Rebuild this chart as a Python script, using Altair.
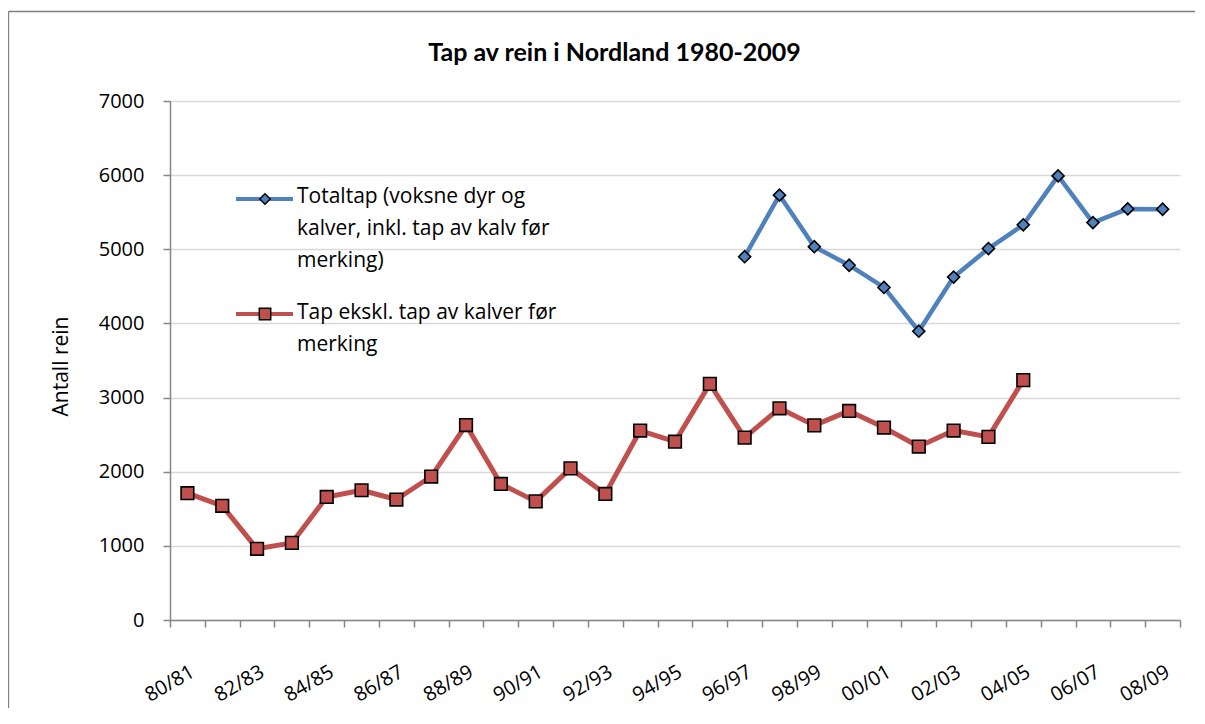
import altair as alt
import pandas as pd

cats = ["80/81", "81/82", "82/83", "83/84", "84/85", "85/86", "86/87", "87/88",
        "88/89", "89/90", "90/91", "91/92", "92/93", "93/94", "94/95", "95/96",
        "96/97", "97/98", "98/99", "99/00", "00/01", "01/02", "02/03", "03/04",
        "04/05", "05/06", "06/07", "07/08", "08/09"]

# Tap ekskl. tap av kalver før merking (80/81 .. 04/05)
red_vals = [1710, 1540, 960, 1040, 1660, 1750, 1625, 1935, 2630, 1835, 1600, 2045,
            1700, 2555, 2405, 3185, 2460, 2855, 2625, 2820, 2595, 2340, 2555, 2470, 3235]
# Totaltap (96/97 .. 08/09)
blue_vals = [4900, 5730, 5035, 4785, 4485, 3895, 4625, 5010, 5330, 5990, 5360, 5545, 5540]

blue_name = "Totaltap (voksne dyr og kalver, inkl. tap av kalv før merking)"
red_name = "Tap ekskl. tap av kalver før merking"
legend_blue_lines = ["Totaltap (voksne dyr og", "kalver, inkl. tap av kalv før", "merking)"]
legend_red_lines = ["Tap ekskl. tap av kalver før", "merking"]
title_text = "Tap av rein i Nordland 1980-2009"
y_title = "Antall rein"

RED = "#C0504D"
BLUE = "#4F81BD"
FONT = "Open Sans"
TFONT = "Lato"
FS = 20
LFS = 21

red_df = pd.DataFrame({"kategori": cats[:len(red_vals)], "verdi": red_vals, "serie": red_name})
blue_start = len(cats) - len(blue_vals)
blue_df = pd.DataFrame({"kategori": cats[blue_start:], "verdi": blue_vals, "serie": blue_name})
one = pd.DataFrame({"k": [0]})

x_enc = alt.X(
    "kategori:O",
    scale=alt.Scale(type="band", domain=cats, paddingInner=0, paddingOuter=0),
    axis=alt.Axis(
        title=None, tickBand="extent", labelAngle=330, labelAlign="right",
        labelBaseline="middle", labelPadding=43, labelOffset=5,
        labelExpr="toNumber(substring(datum.label,0,2)) % 2 == 0 ? datum.label : ''",
        labelFontSize=FS, labelFont=FONT, labelColor="black", labelOverlap=False,
        domainColor="#868686", domainWidth=1.5, tickColor="#868686", tickWidth=1.5,
        tickSize=7, grid=False,
    ),
)
y_enc = alt.Y(
    "verdi:Q",
    scale=alt.Scale(domain=[0, 7000], nice=False),
    axis=alt.Axis(
        values=list(range(0, 7001, 1000)), format="d", title=y_title, titleFont=FONT,
        titleFontSize=21, titleFontWeight="normal", titleColor="black", titlePadding=27,
        titleY=265,
        labelFontSize=FS, labelFont=FONT, labelColor="black", labelPadding=19,
        domainColor="#868686", domainWidth=1.5, tickColor="#868686", tickWidth=1.5,
        tickSize=7, gridColor="#D9D9D9", gridWidth=1.5,
    ),
)

red_line = alt.Chart(red_df).mark_line(color=RED, strokeWidth=5, strokeJoin="round").encode(x=x_enc, y=y_enc)
red_pts = alt.Chart(red_df).mark_point(shape="square", filled=True, size=160, fill=RED,
                                       stroke="black", strokeWidth=1.6, opacity=1).encode(x=x_enc, y=y_enc)
blue_line = alt.Chart(blue_df).mark_line(color=BLUE, strokeWidth=4.5, strokeJoin="round").encode(x=x_enc, y=y_enc)
blue_pts = alt.Chart(blue_df).mark_point(shape="diamond", filled=True, size=145, fill=BLUE,
                                         stroke="black", strokeWidth=1.6, opacity=1).encode(x=x_enc, y=y_enc)

# manual legend
leg_layers = []
leg_layers.append(alt.Chart(one).mark_rule(color=BLUE, strokeWidth=4).encode(
    x=alt.value(66), x2=alt.value(123), y=alt.value(98)))
leg_layers.append(alt.Chart(one).mark_point(shape="diamond", filled=True, size=110, fill=BLUE,
                                            stroke="black", strokeWidth=1.5, opacity=1).encode(
    x=alt.value(95), y=alt.value(98)))
for i, t in enumerate(legend_blue_lines):
    leg_layers.append(alt.Chart(one).mark_text(align="left", baseline="middle", font=FONT,
                                               fontSize=LFS, color="black").encode(
        x=alt.value(127), y=alt.value(96 + 32 * i), text=alt.value(t)))
leg_layers.append(alt.Chart(one).mark_rule(color=RED, strokeWidth=4).encode(
    x=alt.value(66), x2=alt.value(123), y=alt.value(213)))
leg_layers.append(alt.Chart(one).mark_point(shape="square", filled=True, size=130, fill=RED,
                                            stroke="black", strokeWidth=1.5, opacity=1).encode(
    x=alt.value(95), y=alt.value(213)))
for i, t in enumerate(legend_red_lines):
    leg_layers.append(alt.Chart(one).mark_text(align="left", baseline="middle", font=FONT,
                                               fontSize=LFS, color="black").encode(
        x=alt.value(127), y=alt.value(212 + 32 * i), text=alt.value(t)))

# title as text
title_layer = alt.Chart(one).mark_text(align="center", baseline="middle", font=TFONT, fontSize=25,
                                       fontWeight="bold", color="black").encode(
    x=alt.value(444.5), y=alt.value(-48), text=alt.value(title_text))

# outer frame (top and left edges visible)
frame_top = alt.Chart(one).mark_rule(color="#7f7f7f", strokeWidth=1.3).encode(
    x=alt.value(-161.5), x2=alt.value(1040), y=alt.value(-89.5))
frame_left = alt.Chart(one).mark_rule(color="#7f7f7f", strokeWidth=1.3).encode(
    x=alt.value(-161.5), y=alt.value(-89.5), y2=alt.value(700))

chart = alt.layer(frame_top, frame_left, title_layer, red_line, red_pts, blue_line, blue_pts,
                  *leg_layers).properties(
    width=1010, height=519,
    autosize=alt.AutoSizeParams(type="none"),
    padding={"left": 162, "top": 93, "right": 15, "bottom": 88},
    background="white",
).configure_view(stroke=None)

chart.save("out.html", embed_options={"renderer": "svg", "actions": False})
